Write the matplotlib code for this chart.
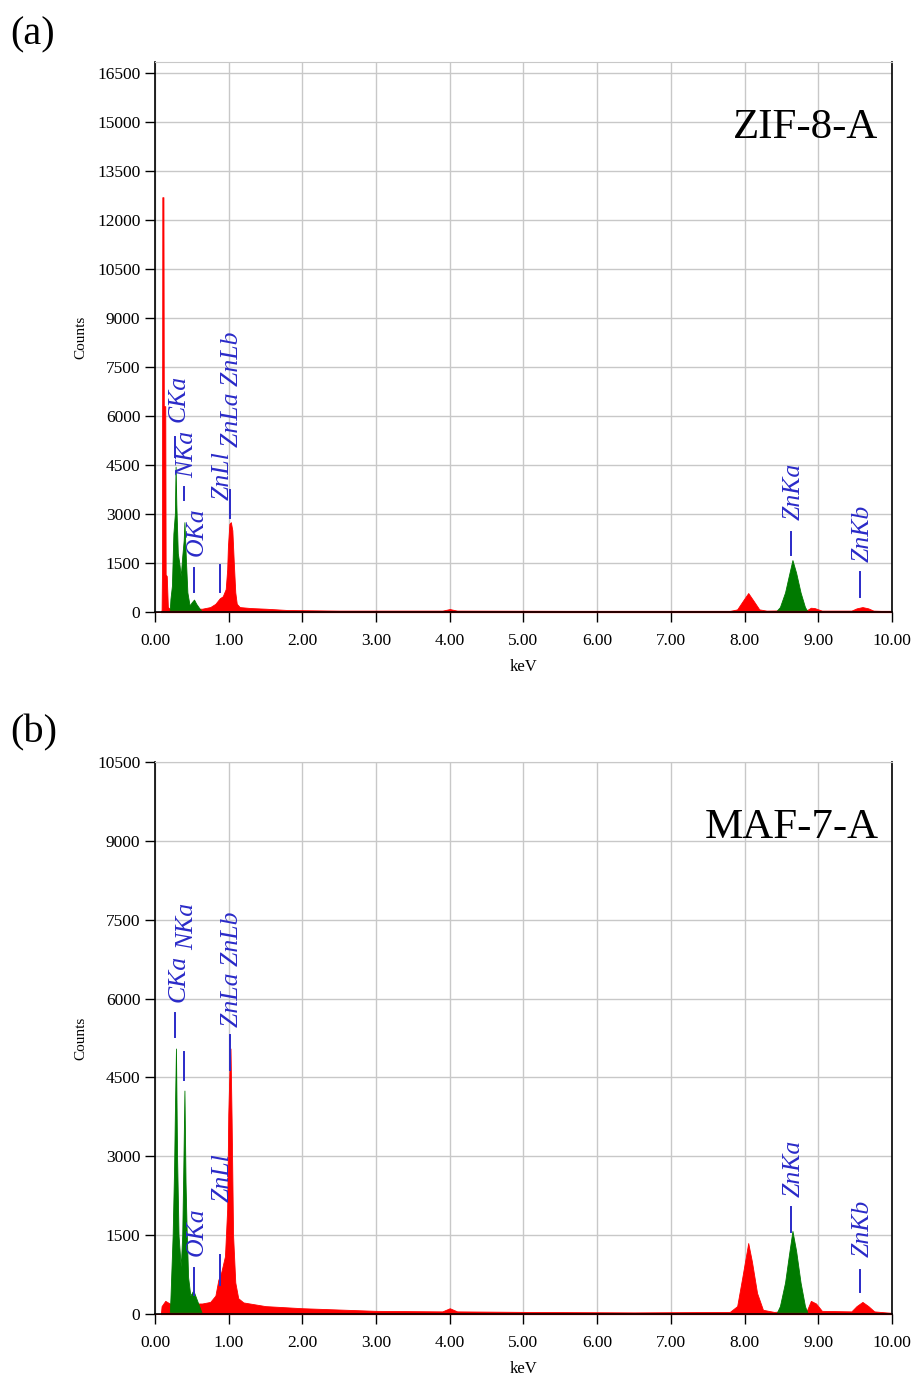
import matplotlib
matplotlib.use('Agg')
from matplotlib import pyplot as plt

plt.rcParams['font.family'] = ['Liberation Serif', 'DejaVu Serif']

RED = '#ff0000'
GREEN = '#007a00'
BLUE = '#2a2ac8'

# ---- panel (a) ZIF-8-A spectrum outline (keV, counts)
a_red_e = [0.00, 0.09, 0.095, 0.10, 0.115, 0.12, 0.14, 0.145, 0.16, 0.175, 0.20,
           0.64, 0.75, 0.82, 0.88, 0.92, 0.96, 0.98, 0.99, 1.01, 1.03, 1.05, 1.07, 1.09, 1.11,
           1.15, 1.30, 1.50, 1.80, 2.50, 3.90, 4.00, 4.10, 6.00, 7.80, 7.90, 7.98, 8.05, 8.12,
           8.20, 8.30, 8.85, 8.90, 8.95, 9.05, 9.45, 9.52, 9.60, 9.68, 9.75, 10.00]
a_red_c = [0, 0, 1200, 12700, 12700, 6300, 6300, 1150, 1100, 150, 100,
           100, 150, 250, 420, 480, 700, 1300, 2000, 2700, 2750, 2500, 1500, 600, 250,
           150, 120, 100, 60, 40, 40, 90, 40, 30, 30, 80, 350, 580, 350,
           80, 40, 60, 130, 120, 40, 40, 110, 150, 110, 40, 20]
a_grn_e = [0.20, 0.21, 0.23, 0.25, 0.27, 0.28, 0.29, 0.31, 0.33, 0.35, 0.37, 0.39,
           0.40, 0.42, 0.44, 0.47, 0.50, 0.53, 0.56, 0.60, 0.64]
a_grn_c = [0, 400, 800, 2400, 3000, 4450, 3300, 1800, 1500, 1100, 1700, 2200,
           2750, 1600, 600, 200, 300, 380, 250, 120, 0]
a_zk_e = [8.42, 8.48, 8.55, 8.60, 8.65, 8.70, 8.76, 8.82, 8.86]
a_zk_c = [0, 150, 600, 1100, 1590, 1200, 600, 150, 0]

# ---- panel (b) MAF-7-A
b_red_e = [0.00, 0.08, 0.09, 0.14, 0.20,
           0.64, 0.75, 0.82, 0.86, 0.90, 0.95, 0.98, 0.995, 1.01, 1.025, 1.04, 1.06,
           1.09, 1.13, 1.20, 1.50, 2.00, 3.00, 3.90, 4.00, 4.10, 5.00, 6.50, 7.80,
           7.90, 7.97, 8.05, 8.10, 8.17, 8.25, 8.40, 8.85, 8.90, 8.97, 9.05, 9.45,
           9.52, 9.60, 9.68, 9.76, 10.00]
b_red_c = [0, 0, 150, 250, 200,
           200, 230, 350, 650, 800, 1100, 2000, 3800, 4600, 5050, 3700, 1500,
           600, 300, 220, 150, 110, 60, 50, 110, 50, 40, 30, 40,
           150, 700, 1350, 1000, 400, 80, 40, 80, 250, 200, 60, 50,
           150, 230, 150, 50, 20]
b_grn_e = [0.20, 0.21, 0.24, 0.26, 0.27, 0.285, 0.30, 0.32, 0.35, 0.37, 0.385,
           0.40, 0.415, 0.43, 0.45, 0.48, 0.52, 0.56, 0.60, 0.64]
b_grn_c = [0, 300, 1500, 2800, 3800, 5050, 3000, 1500, 900, 1500, 2800,
           4250, 2500, 1600, 700, 350, 450, 300, 150, 0]
b_zk_e = [8.43, 8.48, 8.55, 8.60, 8.65, 8.70, 8.76, 8.82, 8.86]
b_zk_c = [0, 150, 600, 1100, 1580, 1200, 600, 150, 0]

# line labels: name, energy
line_names = ['CKa', 'NKa', 'OKa', 'ZnLl', 'ZnLa ZnLb', 'ZnKa', 'ZnKb']
line_keV = [0.277, 0.392, 0.525, 0.884, 1.012, 8.630, 9.570]
# text bottom and marker range (counts) for each panel
a_txt = [5816, 4102, 1714, 3429, 5051, 2816, 1531]
a_mk = [(4745, 5357), (3429, 3827), (612, 1347), (612, 1439), (2878, 3735), (1745, 2449), (459, 1224)]
b_txt = [5935, 6924, 1103, 2130, 5459, 2226, 1084]
b_mk = [(5269, 5726), (4451, 4984), (361, 875), (552, 1122), (4641, 5307), (1560, 2035), (418, 837)]

fig = plt.figure(figsize=(9.18, 13.78), dpi=100)


def panel(rect, ymax, yticks, red, grn, zk, txt, mk, name, tag, tag_y):
    ax = fig.add_axes(rect)
    ax.set_xlim(0, 10)
    ax.set_ylim(0, ymax)
    ax.set_xticks(range(0, 11))
    ax.set_xticklabels(['%.2f' % v for v in range(0, 11)])
    ax.set_yticks(yticks)
    ax.grid(True, color='#c8c8c8', lw=1)
    ax.set_axisbelow(True)
    ax.fill_between(red[0], red[1], 0, color=RED, lw=0.6, edgecolor=RED)
    ax.fill_between(grn[0], grn[1], 0, color=GREEN, lw=0.6, edgecolor=GREEN)
    ax.fill_between(zk[0], zk[1], 0, color=GREEN, lw=0.6, edgecolor=GREEN)
    ax.plot([0.08, 10], [0, 0], color=RED, lw=1.6, solid_capstyle='butt', clip_on=False)
    for nm, e, t, m in zip(line_names, line_keV, txt, mk):
        ax.plot([e, e], m, color=BLUE, lw=1.4)
        ax.text(e + 0.04, t, nm, rotation=90, ha='center', va='bottom',
                fontsize=18.5, style='italic', color=BLUE)
    ax.text(0.982, 0.88, name, transform=ax.transAxes, ha='right', va='center', fontsize=31)
    fig.text(0.011, tag_y, tag, fontsize=29, ha='left', va='center')
    for s in ['left', 'bottom', 'right']:
        ax.spines[s].set_color('black')
        ax.spines[s].set_linewidth(1.2)
    ax.spines['top'].set_color('#c8c8c8')
    ax.tick_params(direction='out', length=7, width=1, labelsize=12.5)
    ax.tick_params(axis='x', pad=8)
    ax.set_ylabel('Counts', fontsize=11, labelpad=7)
    ax.set_xlabel('keV', fontsize=12, labelpad=7)
    return ax


panel([0.1688, 0.5559, 0.8028, 0.3991], 16840, range(0, 16501, 1500),
      (a_red_e, a_red_c), (a_grn_e, a_grn_c), (a_zk_e, a_zk_c),
      a_txt, a_mk, 'ZIF-8-A', '(a)', 0.975)
panel([0.1688, 0.04644, 0.8028, 0.4006], 10500, range(0, 10501, 1500),
      (b_red_e, b_red_c), (b_grn_e, b_grn_c), (b_zk_e, b_zk_c),
      b_txt, b_mk, 'MAF-7-A', '(b)', 0.468)

fig.savefig('out.png', dpi=100)
